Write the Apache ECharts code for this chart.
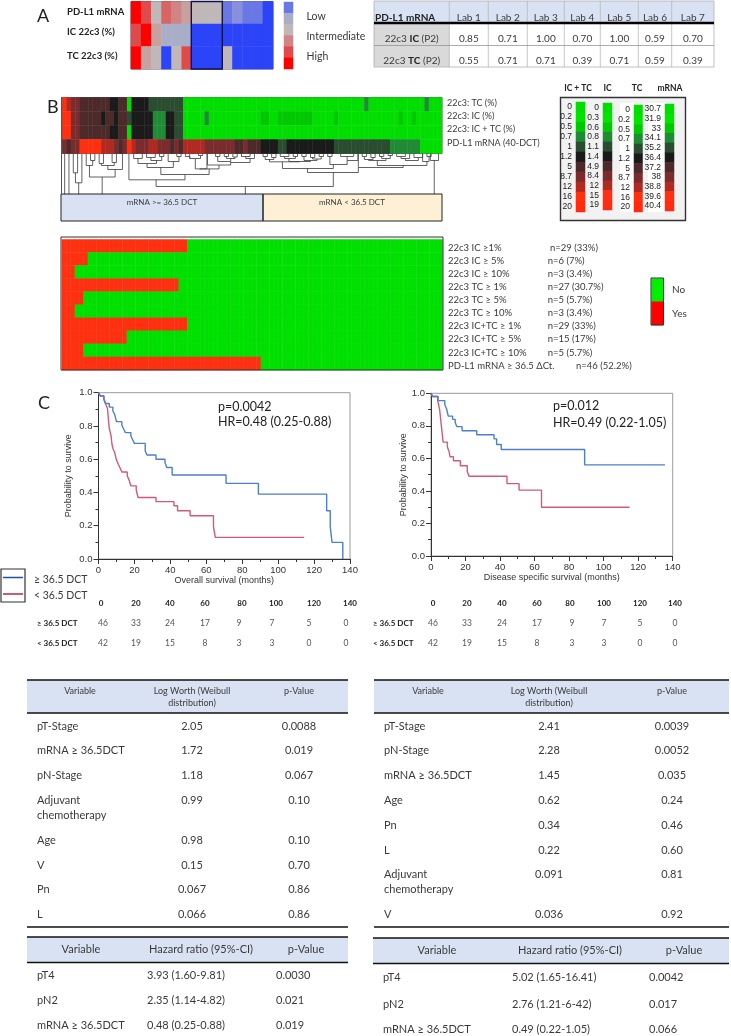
<!DOCTYPE html>
<html><head><meta charset="utf-8"><style>html,body{margin:0;padding:0;background:#fff}#c{width:731px;height:1036px}</style>
<script src="https://cdn.jsdelivr.net/npm/echarts@6/dist/echarts.min.js"></script></head><body><div id="c"></div>
<script>
// ---------- DATA ----------
const scoreRows = ['PD-L1 mRNA','IC 22c3 (%)','TC 22c3 (%)'];
const scoreMrna = [0,1,5,2,3,4,5,5,5,8,7,8,8,9];
const scoreIC   = [1,0,4,6,6,6,9,9,9,9,9,9,9,9];
const scoreTC   = [0,4,5,9,5,1,9,9,9,5,9,9,9,9];
const scoreLegendLevels = [8,6,5,3,1,0];
const scoreLegendText = ['Low','Intermediate','High'];

const labHeader = ['PD-L1 mRNA','Lab 1','Lab 2','Lab 3','Lab 4','Lab 5','Lab 6','Lab 7'];
const labIC = ['0.85','0.71','1.00','0.70','1.00','0.59','0.70'];
const labTC = ['0.55','0.71','0.71','0.39','0.71','0.59','0.39'];

const clusterTC = [
 9,8,7,7,6,6,6,6,6,6, 6,5,5,6,6,0,5,5,5,5, 4,4,4,4,4,4,4,4,0,0,
 0,0,0,0,0,0,0,0,0,0, 0,0,0,0,0,0,0,0,0,0, 0,0,0,0,0,0,0,0,0,0,
 0,0,0,0,0,0,0,0,0,0, 3,0,0,0,0,0,0,0,0,0, 0,0,0,0,3,0,0,0];
const clusterIC = [
 9,9,7,7,6,6,6,6,6,5, 6,6,5,6,6,4,5,5,5,5, 5,3,3,3,5,5,4,4,0,0,
 0,0,0,3,0,0,0,0,0,0, 0,0,0,0,0,0,2,2,0,0, 2,2,2,2,2,2,2,2,0,0,
 0,0,0,2,0,0,0,0,0,0, 0,0,0,0,0,0,0,0,2,0, 0,2,0,0,0,0,0,0];
const clusterBoth = [
 9,9,7,7,6,6,6,6,6,6, 6,5,5,6,6,0,5,5,5,5, 5,3,3,3,5,5,4,4,0,0,
 0,0,0,0,0,0,0,0,0,0, 0,0,0,0,0,0,0,0,0,0, 0,0,0,0,0,0,0,0,0,0,
 0,0,0,0,0,0,0,0,0,0, 0,0,0,0,0,0,0,0,0,0, 0,0,0,0,0,0,0,0];
const clusterMrna = [
 7,6,7,7,9,9,9,9,9,8, 8,8,7,6,7,9,8,7,7,7, 8,8,7,7,7,6,7,6,8,8,
 8,8,8,7,7,7,7,7,7,7, 6,6,7,6,6,6,5,5,5,5, 4,4,5,5,5,5,5,5,5,5,
 5,5,5,4,4,4,4,4,4,4, 4,4,4,4,4,4,3,3,3,3, 3,3,3,0,0,0,0,0];
const clusterLabels = ['22c3: TC (%)','22c3: IC (%)','22c3: IC + TC (%)','PD-L1 mRNA (40-DCT)'];
const clusterGroups = ['mRNA >= 36.5 DCT','mRNA < 36.5 DCT'];

// dendrogram merges: left column, right column, merge height, left foot, right foot
const dendroMerges = [
 [0.5,0.5,41,0,41],[1.5,1.5,41,0,41],[2.5,3.5,21.7,41,41],[3,4.5,11.7,21.7,41],[3.75,3.75,11.7,0,11.7],
 [6.5,7.5,34,41,41],[5.5,7,29,41,34],[8.5,9.5,31,41,41],[11.5,12.5,32,41,41],[9,12,29,31,32],[10.5,13.9,25,29,41],[6.25,12.2,17.5,29,25],[9.2,9.2,17.5,0,17.5],
 [16.5,18.5,36,41,41],[19.5,21.5,37,41,41],[20.5,23,34,37,38],[22.5,23.5,38,41,41],[17.5,21.8,31,36,34],[24.5,27,33,41,38],[26.5,27.5,38,41,41],[19.6,25.7,27,31,33],
 [29.5,32,36,41,39],[31.5,32.5,39,41,41],[30.8,33.5,25.6,36,41],[28.5,29.5,38,41,36],[35.5,36.5,38,41,41],[37.5,38.5,38,41,41],[39.5,40.5,37.5,41,41],[38,40,36,38,37.5],[41.5,43.5,38,41,41],[42.5,44.5,36,38,41],[36,39,33,38,36],[39,43.5,32,33,36],[33.6,39,29.5,41,32],[31.8,36.3,25.6,25.6,29.5],[22.8,34,20,27,25.6],[15.4,28.4,14.7,41,20],[21.7,62.8,8,14.7,22],[42.4,42.4,8,0,8],
 [46.5,47.5,38,41,41],[48.5,49.5,37,41,41],[47,49,35,38,37],[50.5,52.5,38,41,41],[53.5,54.5,38,41,41],[51.5,54,36,38,38],[55.5,56.5,38,41,41],[57.5,58.5,37,41,41],[59.5,60.5,38,41,41],[58,60,35.5,37,38],[56,59,34,38,35.5],[52.5,57.5,33,36,34],[48,55,32.7,35,33],[51,62.8,26,32.7,30],[61.5,62.5,38,41,41],[62,66,30,38,34],[64.5,67.5,38,41,41],[66,68.5,34,38,41],[56.8,68.6,22,26,27],
 [69.5,70.5,38,41,41],[71.5,72.5,37,41,41],[70,72,35,38,37],[73.5,74.5,38,41,41],[75.5,76.5,39,41,41],[74,76,36,38,39],[71,75,34,35,36],[77.5,79.5,38,41,41],[78.5,80.5,36,38,41],[81.5,83.5,37,41,41],[79.5,82.5,34,36,37],[84.5,85.5,38,41,41],[83.5,85,33,41,38],[73,84.5,29,34,33],[68.6,79,27,41,29],
 [85.3,87.2,34,41,41],[86.2,86.2,34,0,34]
];

const keyHeaders = ['IC + TC','IC','TC','mRNA'];
const keyBoth = ['0','0.2','0.5','0.7','1','1.2','5','8.7','12','16','20'];
const keyIC   = ['0','0.3','0.6','0.8','1.1','1.4','4.9','8.4','12','15','19'];
const keyTC   = ['0','0.2','0.5','0.7','1','1.2','5','8.7','12','16','20'];
const keyMrna = ['30.7','31.9','33','34.1','35.2','36.4','37.2','38','38.8','39.6','40.4'];

const cutoffLabels = ['22c3 IC ≥1%','22c3 IC ≥ 5%','22c3 IC ≥ 10%','22c3 TC ≥ 1%','22c3 TC ≥ 5%','22c3 TC ≥ 10%','22c3 IC+TC ≥ 1%','22c3 IC+TC ≥ 5%','22c3 IC+TC ≥ 10%','PD-L1 mRNA ≥ 36.5 ΔCt.'];
const cutoffCounts = ['n=29 (33%)','n=6 (7%)','n=3 (3.4%)','n=27 (30.7%)','n=5 (5.7%)','n=3 (3.4%)','n=29 (33%)','n=15 (17%)','n=5 (5.7%)','n=46 (52.2%)'];
const cutoffYes = [29,6,3,27,5,3,29,15,5,46];
const cutoffLegend = ['No','Yes'];

const osHigh = [[0,1],[1,.98],[3,.96],[4,.935],[6,.913],[8,.89],[9,.87],[10,.826],[13,.804],[14,.782],[15,.76],[18,.74],[19,.717],[20,.695],[26,.65],[27,.625],[32,.6],[37,.58],[38,.55],[41,.505],[71,.455],[89,.39],[127,.29],[129,.195],[130,.1],[136,0]];
const osLow = [[0,1],[1,.98],[3,.96],[4,.93],[5,.905],[5.5,.84],[6,.785],[7,.74],[7.5,.69],[8,.665],[9,.64],[10,.595],[11,.57],[12,.547],[13,.523],[16,.5],[17,.475],[18,.44],[21,.415],[22,.37],[32,.345],[42,.32],[44,.29],[51,.26],[64,.195],[65,.13],[114.5,.13]];
const dssHigh = [[0,1],[1,.98],[4,.955],[8,.93],[9,.905],[10,.86],[12.5,.84],[14,.82],[15,.795],[18,.77],[26.5,.745],[36.5,.72],[38,.685],[40.7,.655],[89,.56],[135.5,.56]];
const dssLow = [[0,1],[1,.98],[4,.95],[5,.9],[5.5,.85],[6,.8],[6.5,.75],[7,.7],[9.5,.67],[10.5,.64],[11,.61],[13,.585],[17,.555],[21,.52],[22,.49],[44,.445],[51,.405],[64,.3],[115,.3]];
const osStats = ['p=0.0042','HR=0.48 (0.25-0.88)'];
const dssStats = ['p=0.012','HR=0.49 (0.22-1.05)'];
const groupNames = ['≥ 36.5 DCT','< 36.5 DCT'];
const riskMonths = ['0','20','40','60','80','100','120','140'];
const riskHigh = ['46','33','24','17','9','7','5','0'];
const riskLow = ['42','19','15','8','3','3','0','0'];

const logHeaders = ['Variable','Log Worth (Weibull','distribution)','p-Value'];
const hrHeaders = ['Variable','Hazard ratio (95%-CI)','p-Value'];
const logOS = [['pT-Stage','2.05','0.0088'],['mRNA ≥ 36.5DCT','1.72','0.019'],['pN-Stage','1.18','0.067'],['Adjuvant|chemotherapy','0.99','0.10'],['Age','0.98','0.10'],['V','0.15','0.70'],['Pn','0.067','0.86'],['L','0.066','0.86']];
const logDSS = [['pT-Stage','2.41','0.0039'],['pN-Stage','2.28','0.0052'],['mRNA ≥ 36.5DCT','1.45','0.035'],['Age','0.62','0.24'],['Pn','0.34','0.46'],['L','0.22','0.60'],['Adjuvant|chemotherapy','0.091','0.81'],['V','0.036','0.92']];
const hrOS = [['pT4','3.93 (1.60-9.81)','0.0030'],['pN2','2.35 (1.14-4.82)','0.021'],['mRNA ≥ 36.5DCT','0.48 (0.25-0.88)','0.019']];
const hrDSS = [['pT4','5.02 (1.65-16.41)','0.0042'],['pN2','2.76 (1.21-6-42)','0.017'],['mRNA ≥ 36.5DCT','0.49 (0.22-1.05)','0.066']];

// ---------- STYLE ----------
const SANS='Lato', HELV='"Liberation Sans"', INK='#3a3a3a';
const scorePalette=['#ff0000','#e04a4a','#d96464','#d08484','#c8a0a0','#c0b8b8','#a8aec8','#8890dd','#6a78e6','#2b44f8'];
const keyPalette=['#00de00','#00e400','#00c800','#1f8c35','#2a4d30','#1a1a1a','#4d2a2a','#7a2c2c','#b02a22','#ff3010','#ff2a10'];
const yesPalette=['#00e000','#ff3010'];

// ---------- HELPERS ----------
const g=[];
const txt=(x,y,text,o={})=>g.push({type:'text',x,y,silent:true,z:20,style:{text,fill:o.color||INK,font:`${o.weight||'normal'} ${o.size||10.5}px ${o.family||SANS}`,textAlign:o.align||'left',textVerticalAlign:'middle',rich:o.rich}});
const fillRect=(x,y,w,h,fill)=>g.push({type:'rect',silent:true,z:-1,shape:{x,y,width:w,height:h},style:{fill}});
const boxRect=(x,y,w,h,stroke,lw)=>g.push({type:'rect',silent:true,z:15,shape:{x,y,width:w,height:h},style:{fill:'transparent',stroke,lineWidth:lw||1}});
const line=(x1,y1,x2,y2,c,w)=>g.push({type:'line',silent:true,z:16,shape:{x1,y1,x2,y2},style:{stroke:c||'#333',lineWidth:w||1}});

const grids=[],xAxes=[],yAxes=[],series=[];
function heatPanel(box,rows,yLabels,labelStyle,seriesList,border){
  const gi=grids.length, cols=rows[0].length;
  grids.push({left:box[0],top:box[1],width:box[2],height:box[3],show:!!border,borderColor:border||'transparent',borderWidth:border?1:0,backgroundColor:'transparent'});
  xAxes.push({gridIndex:gi,type:'category',show:false,data:rows[0].map((_,i)=>i)});
  yAxes.push({gridIndex:gi,type:'category',inverse:true,show:!!yLabels,data:yLabels||rows.map((_,i)=>i),axisLine:{show:false},axisTick:{show:false},splitLine:{show:false},
    axisLabel:Object.assign({show:!!yLabels,interval:0},labelStyle||{})});
  const data=[]; rows.forEach((r,y)=>r.forEach((v,x)=>data.push([x,y,v])));
  seriesList.push(series.length);
  series.push({type:'heatmap',xAxisIndex:gi,yAxisIndex:gi,data,progressive:0,animation:false,silent:true,emphasis:{disabled:true},
    itemStyle:{borderColor:'rgba(255,255,255,0.05)',borderWidth:cols>20?0.5:0}});
}
function survival(box,high,low,xName,yGap,xGap){
  const gi=grids.length;
  grids.push({left:box[0],top:box[1],width:box[2],height:box[3],show:true,borderColor:'#9a9a9a',borderWidth:1,backgroundColor:'transparent'});
  const lab={fontFamily:HELV,fontSize:9.5,color:'#333',margin:6};
  xAxes.push({gridIndex:gi,type:'value',min:0,max:140,interval:20,name:xName,nameLocation:'middle',nameGap:xGap,nameTextStyle:{fontFamily:HELV,fontSize:9,color:'#333'},
    axisLine:{show:true,lineStyle:{color:'#333',width:1}},axisTick:{show:true,length:5,lineStyle:{color:'#333'}},minorTick:{show:true,splitNumber:2,length:3,lineStyle:{color:'#333'}},splitLine:{show:false},minorSplitLine:{show:false},axisLabel:lab});
  yAxes.push({gridIndex:gi,type:'value',min:0,max:1,interval:.2,name:'Probability to survive',nameLocation:'middle',nameGap:yGap,nameRotate:90,nameTextStyle:{fontFamily:HELV,fontSize:9,color:'#333'},
    axisLine:{show:true,lineStyle:{color:'#333',width:1}},axisTick:{show:true,length:5,lineStyle:{color:'#333'}},minorTick:{show:true,splitNumber:2,length:3,lineStyle:{color:'#333'}},splitLine:{show:false},minorSplitLine:{show:false},
    axisLabel:Object.assign({},lab,{formatter:v=>v.toFixed(1)})});
  [[low,'#d25a78'],[high,'#4d7fca']].forEach(([d,c])=>series.push({type:'line',xAxisIndex:gi,yAxisIndex:gi,data:d,step:'end',symbol:'none',animation:false,silent:true,clip:false,lineStyle:{color:c,width:1.4}}));
}

// ---------- PANEL A ----------
const scoreIdx=[],keyIdx=[],yesIdx=[],legendIdx=[];
heatPanel([131,1.5,142,67.5],[scoreMrna,scoreIC,scoreTC],null,null,scoreIdx,'#555555');
heatPanel([284,2,9,67],scoreLegendLevels.map(v=>[v]),null,null,scoreIdx);
txt(37,16,'A',{size:18,color:'#222'});
[12,32,56].forEach((y,i)=>txt(67,y,scoreRows[i],{weight:'bold',size:9.5,color:'#222'}));
[17,37,57].forEach((y,i)=>txt(306.5,y,scoreLegendText[i],{size:10.5}));
boxRect(191.3,1.5,31,67.5,'#12124a',1.4);

const labCols=[374,449.3,488.3,527.3,564.3,600.3,638.3,671.7,714];
fillRect(374,1,340,21.5,'#d9e2f3');
fillRect(374,24,75.3,43,'#d9d9d9');
boxRect(374,1,340,66,'#b0b0b0',.8);
labCols.slice(1,-1).forEach(x=>line(x,1,x,67,'#b0b0b0',.7));
line(374,45.5,714,45.5,'#8a8a8a',.7);
line(374,23,714,23,'#000',2.4);
txt(375,18,labHeader[0],{weight:'bold',size:10,color:'#222'});
labHeader.slice(1).forEach((t,i)=>txt((labCols[i+1]+labCols[i+2])/2,18,t,{align:'center',size:10}));
const bold2=(a,b,c)=>({text:`{a|${a}}{b|${b}}{a|${c}}`,rich:{a:{font:`10px ${SANS}`,fill:INK},b:{font:`bold 10px ${SANS}`,fill:'#222'}}});
[[39,'IC',labIC],[61,'TC',labTC]].forEach(([y,k,vals])=>{
  const t=bold2('22c3 ',k,' (P2)'); txt(411.7,y,t.text,{align:'center',rich:t.rich});
  vals.forEach((v,i)=>txt((labCols[i+1]+labCols[i+2])/2,y,v,{align:'center',size:10}));
});

// ---------- PANEL B ----------
txt(47,107,'B',{size:18,color:'#222'});
heatPanel([62.5,97.5,379.5,56],[clusterTC,clusterIC,clusterBoth,clusterMrna],null,null,keyIdx,'#555555');
[103,116,129,143].forEach((y,i)=>txt(447,y,clusterLabels[i],{size:9}));
// dendrogram
{ const gi=grids.length;
  grids.push({left:62.5,top:153.5,width:379.5,height:41,show:false});
  xAxes.push({gridIndex:gi,type:'value',min:0,max:88,show:false});
  yAxes.push({gridIndex:gi,type:'value',min:0,max:41,show:false});
  series.push({type:'custom',xAxisIndex:gi,yAxisIndex:gi,silent:true,animation:false,clip:true,data:dendroMerges,
    encode:{x:[0,1],y:[2,3,4]},
    renderItem:(p,api)=>{
      const a=api.value(0),b=api.value(1),t=api.value(2),fa=api.value(3),fb=api.value(4);
      return {type:'polyline',shape:{points:[api.coord([a,fa]),api.coord([a,t]),api.coord([b,t]),api.coord([b,fb])]},style:{stroke:'#3a3a3a',lineWidth:.8,fill:null}};
    }});
}
line(61.5,97,61.5,194,'#555',1);
fillRect(61,194,202,27,'#d9e2f3');
fillRect(263,194,179,27,'#fdf0d5');
boxRect(61,194,202,27,'#222',1);
boxRect(263,194,179,27,'#222',1);
txt(162,202,clusterGroups[0],{align:'center',size:8});
txt(352,202,clusterGroups[1],{align:'center',size:8});

// colour key
fillRect(560,97,126,124,'#f2f2f2');
boxRect(560.5,97.5,125,123,'#333',1.4);
fillRect(620,103,14,109,'#ffffff'); fillRect(648,103,17,109,'#ffffff');
[[578,0],[607.5,1],[637,2],[670,3]].forEach(([x,i])=>txt(x,88,keyHeaders[i],{align:'center',weight:'bold',size:8.5,color:'#222'}));
const keyLevels=keyBoth.map((_,i)=>[i]);
const keyLab={fontFamily:HELV,fontSize:8.5,color:'#222',margin:4};
heatPanel([576,102,9,110],keyLevels,keyBoth,keyLab,keyIdx);
heatPanel([603,103,9,107],keyLevels,keyIC,keyLab,keyIdx);
heatPanel([634,105,8.5,107],keyLevels,keyTC,keyLab,keyIdx);
heatPanel([665,104,9,107],keyLevels,keyMrna,keyLab,keyIdx);

// cut-off matrix
boxRect(61,237,382,133,'#333',1);
heatPanel([62,239.5,380.5,130.5],cutoffYes.map(n=>Array.from({length:88},(_,c)=>c<n?1:0)),null,null,yesIdx);
cutoffLabels.forEach((t,i)=>{
  const y=247.7+i*13.1; txt(448,y,t,{size:9.5});
  txt(i==0?550:(i==9?576:547.7),y,cutoffCounts[i],{size:9.5});
});
heatPanel([651.5,278.5,11.5,46.5],[[0],[1]],null,null,legendIdx);
boxRect(651,278,12.5,47,'#333',1);
txt(672,290,cutoffLegend[0],{size:10}); txt(672,314,cutoffLegend[1],{size:10});

// ---------- PANEL C ----------
txt(38,403,'C',{size:18,color:'#222'});
survival([98.5,392.7,251.5,166.3],osHigh,osLow,'Overall survival (months)',25,13);
survival([431,393.3,241.7,162.7],dssHigh,dssLow,'Disease specific survival (months)',23,13);
txt(218,407,osStats[0],{size:12.5,color:'#222'}); txt(218,422,osStats[1],{size:12.5,color:'#222'});
txt(553,406,dssStats[0],{size:12.5,color:'#222'}); txt(553,423,dssStats[1],{size:12.5,color:'#222'});
boxRect(1,569,24,33,'#333',1.2);
line(3,577.5,23,577.5,'#1f4fa8',1.5); line(3,594,23,594,'#b0294f',1.5);
txt(34,580,groupNames[0],{size:10.5}); txt(34,596,groupNames[1],{size:10.5});
const riskX=[[101,136,170,205,242,276,314,350],[433,467,502,537,570,604,640,675]];
const riskVX=[[103,136,170,205,239,272,309,346],[433,467,502,537,572,604,640,675]];
[[37,0],[373,1]].forEach(([lx,k])=>{
  riskMonths.forEach((t,i)=>txt(riskX[k][i],603,t,{align:'center',weight:'bold',size:8,color:'#222'}));
  txt(lx,623,groupNames[0],{weight:'bold',size:8,color:'#222'});
  txt(lx,643,groupNames[1],{weight:'bold',size:8,color:'#222'});
  riskHigh.forEach((t,i)=>txt(riskVX[k][i],623,t,{align:'center',size:8.5,color:'#555'}));
  riskLow.forEach((t,i)=>txt(riskVX[k][i],643,t,{align:'center',size:8.5,color:'#555'}));
});

// ---------- TABLES ----------
function logTable(rows,L,W,cVar,cLog,cP,left){
  fillRect(L,680,W,33,'#d9e2f3');
  line(L,680,L+W,680,'#111',1.4); line(L,713,L+W,713,'#111',1.4); line(L,927,L+W,927,'#111',1.4);
  txt(cVar,691,logHeaders[0],{align:'center',size:9});
  txt(cLog,691,logHeaders[1],{align:'center',size:9});
  txt(cLog,703,logHeaders[2],{align:'center',size:9});
  txt(cP,691,logHeaders[3],{align:'center',size:9});
  let y=726;
  rows.forEach(r=>{
    const parts=r[0].split('|');
    txt(left,y,parts[0],{size:11});
    txt(cLog,y,r[1],{align:'center',size:11}); txt(cP,y,r[2],{align:'center',size:11});
    if(parts[1]){y+=15;txt(left,y,parts[1],{size:11});}
    y+=24.8;
  });
}
function hrTable(rows,L,W,top,bottom,cols,rowY){
  fillRect(L,top,W,bottom-top,'#d9e2f3');
  line(L,top,L+W,top,'#111',1.4); line(L,bottom,L+W,bottom,'#111',1.4);
  const hy=(top+bottom)/2;
  txt(cols.var,hy,hrHeaders[0],{align:'center',size:11});
  txt(cols.hr,hy,hrHeaders[1],{align:'center',size:11});
  txt(cols.p,hy,hrHeaders[2],{align:'center',size:11});
  rows.forEach((r,i)=>{
    txt(cols.left,rowY[i],r[0],{size:11}); txt(cols.hrL,rowY[i],r[1],{size:11}); txt(cols.pL,rowY[i],r[2],{size:11});
  });
}
logTable(logOS,27,321,80,192,299,37);
logTable(logDSS,374,355,428,549,672,384);
hrTable(hrOS,27,321,937,962.5,{var:81,hr:201,p:306,left:37,hrL:147,pL:276},[975,1000,1025]);
hrTable(hrDSS,373,356,938,963.5,{var:437,hr:570,p:684,left:383,hrL:512,pL:649},[977,1004,1029]);

// ---------- CHART ----------
const chart=echarts.init(document.getElementById('c'),null,{renderer:'canvas'});
const pieces=p=>p.map((color,i)=>({value:i,color}));
chart.setOption({
  animation:false,backgroundColor:'#ffffff',
  grid:grids,xAxis:xAxes,yAxis:yAxes,
  visualMap:[
    {show:false,type:'piecewise',dimension:2,seriesIndex:scoreIdx,pieces:pieces(scorePalette)},
    {show:false,type:'piecewise',dimension:2,seriesIndex:keyIdx,pieces:pieces(keyPalette)},
    {show:false,type:'piecewise',dimension:2,seriesIndex:yesIdx,pieces:pieces(yesPalette)},
    {show:false,type:'piecewise',dimension:2,seriesIndex:legendIdx,pieces:pieces(['#00f000','#ff0000'])}
  ],
  series,graphic:{elements:g}
});
</script></body></html>
